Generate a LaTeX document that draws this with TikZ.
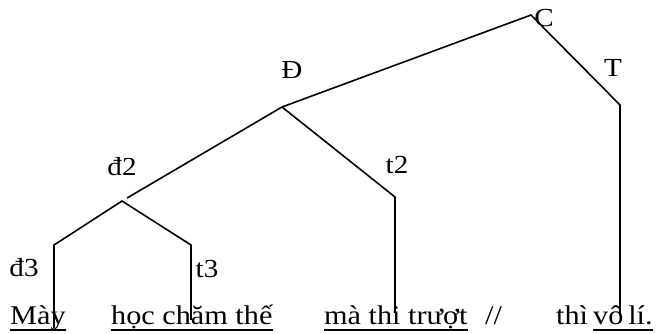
\documentclass[tikz,border=0pt]{standalone}
\usepackage{fontspec}
\setmainfont{Liberation Serif}[FakeStretch=1.12]
\begin{document}
\begin{tikzpicture}[x=1pt,y=-1pt,
  branch/.style={line width=1.6pt,line join=miter},
  lbl/.style={inner sep=0pt,font=\fontsize{26}{30}\selectfont},
  word/.style={inner sep=0pt,anchor=base west,font=\fontsize{27}{31}\selectfont},
  uline/.style={line width=1.6pt}]
\useasboundingbox (0,0) rectangle (657,334);

% tree points
\coordinate (C) at (531,15);
\coordinate (Tb) at (620,105);
\coordinate (Te) at (620,315);
\coordinate (D) at (282,107);
\coordinate (t2b) at (395,197);
\coordinate (t2e) at (395,313);
\coordinate (d2) at (122,201);
\coordinate (d3b) at (54,245);
\coordinate (d3e) at (54,328);
\coordinate (t3b) at (191,245);
\coordinate (t3e) at (191,320);

% branches
\draw[branch] (D) -- (C) -- (Tb) -- (Te);
\draw[branch] (D) -- (t2b) -- (t2e);
\draw[branch,shorten >=6pt] (D) -- (d2);
\draw[branch] (d3e) -- (d3b) -- (d2) -- (t3b) -- (t3e);

% labels
\node[lbl] (lC) at (544,18) {C};
\node[lbl] (lT) at (613,68) {T};
\node[lbl] (lD) at (292,70) {Đ};
\node[lbl] (lt2) at (397,165) {t2};
\node[lbl] (ld2) at (122,167) {đ2};
\node[lbl] (ld3) at (24,268) {đ3};
\node[lbl] (lt3) at (207,269) {t3};

% sentence
\node[word] (w1) at (10,325) {Mày};
\node[word] (w2) at (111,325) {học chăm thế};
\node[word] (w3) at (324,325) {mà thi trượt};
\node[word] (w4) at (485,325) {//};
\node[word] (w5) at (556,325) {thì};
\node[word] (w6) at (593,325) {vô\hspace{0.18em}lí.};

% underlines
\foreach \w in {w1,w2,w3,w6}
  \draw[uline] (\w.west |- 0,330) -- (\w.east |- 0,330);
\end{tikzpicture}
\end{document}
